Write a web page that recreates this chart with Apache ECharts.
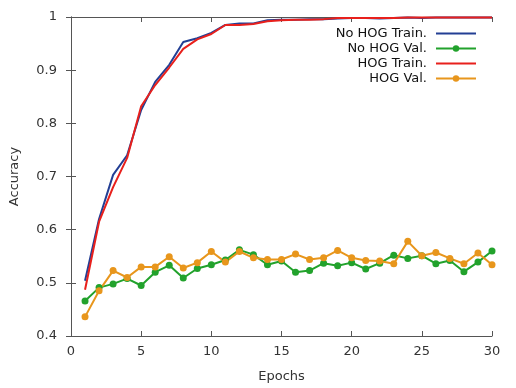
<!DOCTYPE html>
<html>
<head>
<meta charset="utf-8">
<script src="https://cdn.jsdelivr.net/npm/echarts@6/dist/echarts.min.js"></script>
<style>
  html, body { margin: 0; padding: 0; background: #fff; }
  #chart { width: 516px; height: 388px; }
</style>
</head>
<body>
<div id="chart"></div>
<script>
// epochs 1..30
const epochs = [1,2,3,4,5,6,7,8,9,10,11,12,13,14,15,16,17,18,19,20,21,22,23,24,25,26,27,28,29,30];
const noHogTrain = [0.504,0.620,0.703,0.740,0.825,0.878,0.910,0.953,0.960,0.970,0.985,0.988,0.988,0.994,0.995,0.995,0.996,0.996,0.997,0.998,0.998,0.997,0.998,0.999,0.998,0.999,0.999,0.999,0.999,0.999];
const noHogVal = [0.466,0.491,0.498,0.508,0.495,0.520,0.533,0.509,0.527,0.534,0.543,0.562,0.553,0.534,0.541,0.520,0.523,0.537,0.532,0.538,0.526,0.537,0.552,0.546,0.551,0.536,0.542,0.521,0.539,0.560];
const hogTrain = [0.487,0.615,0.680,0.735,0.832,0.872,0.905,0.940,0.958,0.968,0.985,0.985,0.987,0.992,0.994,0.995,0.995,0.996,0.998,0.998,0.998,0.998,0.998,0.999,0.999,0.999,0.999,0.999,0.999,0.999];
const hogVal = [0.436,0.485,0.523,0.510,0.530,0.530,0.549,0.528,0.538,0.559,0.539,0.559,0.547,0.544,0.544,0.554,0.544,0.547,0.561,0.547,0.542,0.541,0.536,0.578,0.551,0.557,0.546,0.536,0.556,0.534];
const yTicks = [0.4, 0.5, 0.6, 0.7, 0.8, 0.9, 1];

const pairs = vals => epochs.map((e, i) => [e, vals[i]]);
const chart = echarts.init(document.getElementById('chart'));

const txt = '#333';
const axisLine = { show: true, lineStyle: { color: '#555', width: 1 } };
const tickIn = { show: true, inside: true, length: 5, lineStyle: { color: '#555' } };
const lineIcon = 'path://M0,0 L40,0 L40,2 L0,2 Z'; // plain line for train series

chart.setOption({
  animation: false,
  textStyle: { fontFamily: 'DejaVu Sans' },
  grid: { left: 68, right: 24, top: 17, bottom: 49 },
  legend: {
    right: 34, top: 21, orient: 'vertical', align: 'right',
    itemWidth: 40, itemHeight: 8, itemGap: 0,
    textStyle: { fontSize: 13, color: '#111', fontFamily: 'DejaVu Sans', lineHeight: 15, padding: [0, 4, 0, 0] },
    data: [
      { name: 'No HOG Train.', icon: lineIcon },
      'No HOG Val.',
      { name: 'HOG Train.', icon: lineIcon },
      'HOG Val.'
    ]
  },
  xAxis: [{
    type: 'value', min: 0, max: 30, interval: 5,
    name: 'Epochs', nameLocation: 'middle', nameGap: 34,
    nameTextStyle: { fontSize: 13, color: txt },
    axisLine: axisLine, axisTick: tickIn, splitLine: { show: false },
    axisLabel: { fontSize: 13, color: txt, margin: 9 }
  }, {
    type: 'value', min: 0, max: 30, interval: 5, position: 'top',
    axisLine: axisLine, axisTick: tickIn, splitLine: { show: false },
    axisLabel: { show: false }
  }],
  yAxis: [{
    type: 'value', min: yTicks[0], max: yTicks[yTicks.length - 1], interval: 0.1,
    name: 'Accuracy', nameLocation: 'middle', nameGap: 50,
    nameTextStyle: { fontSize: 13, color: txt },
    axisLine: axisLine, axisTick: tickIn, splitLine: { show: false },
    axisLabel: { fontSize: 13, color: txt, margin: 14,
      formatter: v => String(parseFloat(v.toFixed(1))) }
  }, {
    type: 'value', min: 0.4, max: 1, interval: 0.1, position: 'right',
    axisLine: axisLine, axisTick: tickIn, splitLine: { show: false },
    axisLabel: { show: false }
  }],
  series: [
    { name: 'No HOG Train.', type: 'line', data: pairs(noHogTrain), showSymbol: false,
      symbol: 'none', color: '#233f94', lineStyle: { width: 2 } },
    { name: 'No HOG Val.', type: 'line', data: pairs(noHogVal), symbol: 'circle', symbolSize: 7,
      color: '#22a22c', lineStyle: { width: 2 } },
    { name: 'HOG Train.', type: 'line', data: pairs(hogTrain), symbol: 'none',
      color: '#e8201c', lineStyle: { width: 2 } },
    { name: 'HOG Val.', type: 'line', data: pairs(hogVal), symbol: 'circle', symbolSize: 7,
      color: '#e8961c', lineStyle: { width: 2 } }
  ]
});
</script>
</body>
</html>
